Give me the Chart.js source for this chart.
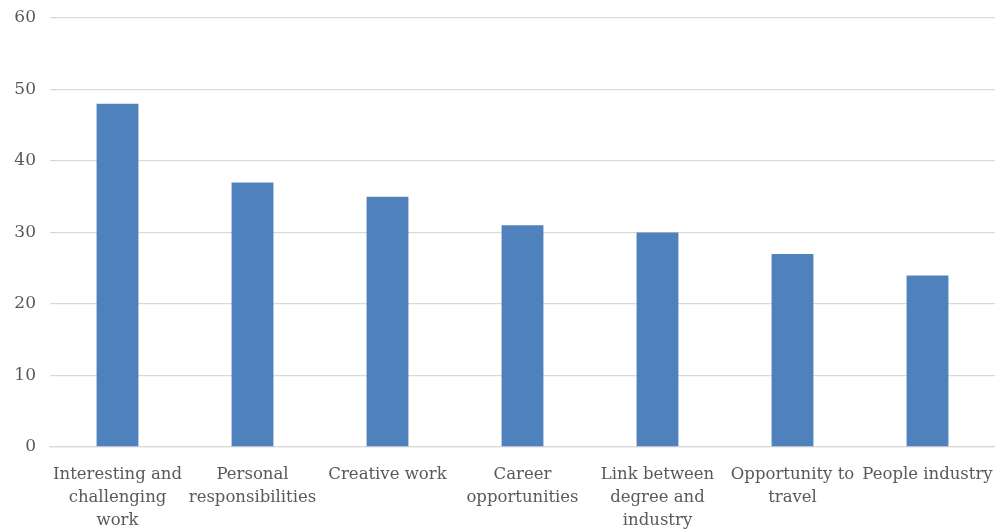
<!DOCTYPE html>
<html>
<head>
<meta charset="utf-8">
<script src="https://cdn.jsdelivr.net/npm/chart.js@4"></script>
<style>
  html, body { margin: 0; padding: 0; background: #fff; }
  #wrap { width: 995px; height: 529px; position: relative; }
</style>
</head>
<body>
<div id="wrap"><canvas id="grafico"></canvas></div>
<script>
// categorias e valores
const categorias = [
    ["Interesting and", "challenging", "work"],
    ["Personal", "responsibilities"],
    ["Creative work"],
    ["Career", "opportunities"],
    ["Link between", "degree and", "industry"],
    ["Opportunity to", "travel"],
    ["People industry"]
];
const valores = [48, 37, 35, 31, 30, 27, 24];
const ticksY = [0, 10, 20, 30, 40, 50, 60];

const familia = "'DejaVu Serif', 'Liberation Serif', serif";

new Chart(document.getElementById("grafico").getContext("2d"), {
    type: "bar",
    data: {
        labels: categorias,
        datasets: [{
            data: valores,
            backgroundColor: "#4F81BD",
            barPercentage: 0.31,
            categoryPercentage: 1
        }]
    },
    options: {
        responsive: true,
        maintainAspectRatio: false,
        animation: false,
        layout: { padding: { top: 18, right: 0, left: 0, bottom: 0 } },
        plugins: {
            legend: { display: false },
            tooltip: { enabled: false }
        },
        scales: {
            y: {
                min: 0,
                max: 60,
                afterBuildTicks: axis => { axis.ticks = ticksY.map(v => ({ value: v })); },
                afterFit: axis => { axis.width = 50; axis.paddingTop = 0; axis.paddingBottom = 0; },
                ticks: { color: "#595959", font: { family: familia, size: 17 }, padding: 14 },
                grid: { color: "#D9D9D9", lineWidth: 1.3, drawTicks: false },
                border: { display: false }
            },
            x: {
                afterFit: axis => { axis.paddingLeft = 0; axis.paddingRight = 0; axis.height = 82; },
                ticks: {
                    color: "#595959",
                    font: { family: familia, size: 16.5, lineHeight: 1.4 },
                    maxRotation: 0, autoSkip: false, padding: 8
                },
                grid: { display: false },
                border: { color: "#D9D9D9", width: 1.3 }
            }
        }
    }
});
</script>
</body>
</html>
